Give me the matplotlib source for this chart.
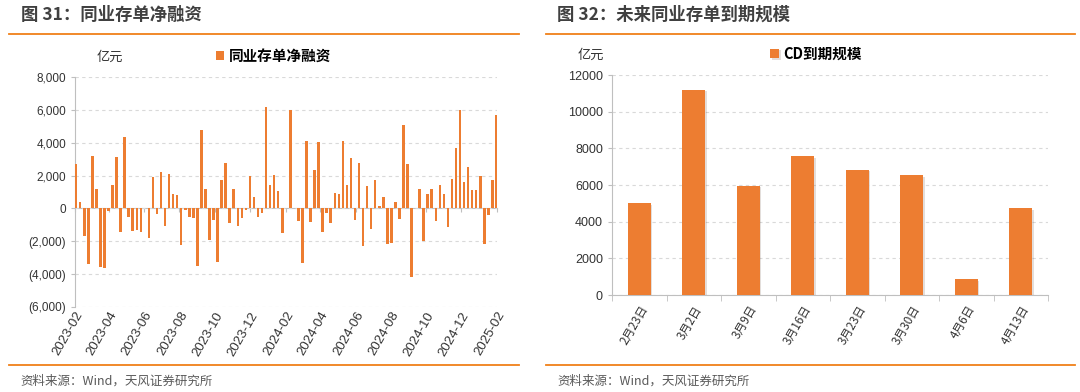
import matplotlib
matplotlib.use('Agg')
import matplotlib.pyplot as plt
import matplotlib.dates as mdates
import matplotlib.patheffects as pe
from matplotlib.ticker import FuncFormatter, FixedLocator
import numpy as np
import pandas as pd

plt.rcParams['font.family'] = ['Liberation Sans', 'Noto Sans CJK SC', 'DejaVu Sans']

# ---- data: 同业存单净融资 (weekly, 亿元) ----
start_week = '2023-02-03'
net_financing = [
    2700, 370, -1700, -3400, 3200, 1200, -3550, -3650, -150, 1400,
    3150, -1450, 4350, -500, -1350, -1300, -1450, 0, -1800, 1900,
    -350, 2200, -1050, 2100, 880, 820, -2250, -100, -550, -600,
    -3500, 4800, 1200, -1900, -700, -3250, 1750, 2750, -900, 1200,
    -1050, -600, -100, 1950, 700, -500, -300, 6200, 1400, 2050,
    1050, -1500, 0, 6000, 0, -750, -3350, 4100, -850, 2350,
    4050, -1450, -300, -900, 950, 850, 4100, 1450, 3050, -700,
    2750, -2300, 1350, -1250, 1750, 150, 700, -2150, -2100, 400,
    -650, 5100, 2700, -4150, 0, 1200, -2000, 900, 1200, -750,
    1450, 880, -1100, 1800, 3650, 6000, 1600, 2500, 1150, 1100,
    2000, -2150, -400, 1750, 5700,
]
left_yticks = [-6000, -4000, -2000, 0, 2000, 4000, 6000, 8000]

# ---- data: 未来同业存单到期规模 (亿元) ----
cd_dates = ['2月23日', '3月2日', '3月9日', '3月16日', '3月23日', '3月30日', '4月6日', '4月13日']
cd_maturity = [5000, 11200, 5970, 7570, 6820, 6520, 850, 4720]
right_yticks = [0, 2000, 4000, 6000, 8000, 10000, 12000]

orange = '#ED7D31'
rule = '#F08019'
axis_gray = '#BFBFBF'
grid_gray = '#D9D9D9'
text_dark = '#404040'
cjk = ['Noto Sans CJK SC', 'DejaVu Sans']

fig = plt.figure(figsize=(10.8, 3.92), dpi=100)

# titles, rules and sources
for x0, x1, tx, title in [(0.008, 0.481, 0.019, '图 31：同业存单净融资'),
                          (0.506, 0.995, 0.516, '图 32：未来同业存单到期规模')]:
    fig.text(tx, 1 - 15 / 392, title, fontsize=12.5, fontweight='bold', color=text_dark,
             family=cjk, va='center', ha='left')
    fig.add_artist(plt.Line2D([x0, x1], [1 - 33.5 / 392] * 2, color=rule, lw=1.3))
    fig.add_artist(plt.Line2D([x0, x1], [1 - 365 / 392] * 2, color=rule, lw=1.3))
    fig.text(tx, 1 - 381 / 392, '资料来源：Wind，天风证券研究所', fontsize=9, color='#595959',
             family=['Liberation Sans Narrow', 'Noto Sans CJK SC', 'DejaVu Sans'],
             va='center', ha='left')

# ---- left chart ----
ax1 = fig.add_axes([75 / 1080, 1 - 307 / 392, (497 - 75) / 1080, (307 - 77) / 392])
weeks = pd.date_range(start_week, periods=len(net_financing), freq='7D')
ax1.bar(weeks, net_financing, width=4.4, color=orange, linewidth=0,
        label='同业存单净融资', zorder=3)
ax1.set_xlim(pd.Timestamp('2023-02-01'), pd.Timestamp('2025-02-01'))
ax1.set_ylim(-6000, 8000)
ax1.set_yticks(left_yticks)
ax1.yaxis.set_major_formatter(FuncFormatter(
    lambda v, p: f'({abs(v):,.0f})' if v < 0 else f'{v:,.0f}'))
ax1.xaxis.set_major_locator(mdates.MonthLocator(bymonth=[2, 4, 6, 8, 10, 12]))
ax1.xaxis.set_major_formatter(mdates.DateFormatter('%Y-%m'))
ax1.grid(axis='y', color=grid_gray, linestyle=(0, (3, 3)), lw=0.8, zorder=0)
for s in ['top', 'right', 'bottom']:
    ax1.spines[s].set_visible(False)
ax1.spines['left'].set_color(axis_gray)
ax1.tick_params(axis='y', length=3, color=axis_gray, labelsize=8.5, labelcolor='#333333')
ax1.tick_params(axis='x', length=0, labelsize=9.5, labelcolor='#333333', pad=2)
plt.setp(ax1.get_xticklabels(), rotation=60, ha='right', rotation_mode='anchor')
# zero axis line with its tick marks
zero_ax = ax1.secondary_xaxis(6000 / 14000)
zero_ax.xaxis.set_major_locator(mdates.MonthLocator(bymonth=[2, 4, 6, 8, 10, 12]))
zero_ax.tick_params(axis='x', length=3, color=axis_gray, labelbottom=False)
zero_ax.spines['bottom'].set_color(axis_gray)
ax1.legend(loc='lower center', bbox_to_anchor=(0.47, 1.0), frameon=False,
           handlelength=0.6, handleheight=0.6, handletextpad=0.3,
           prop={'family': cjk, 'size': 10.5, 'weight': 'bold'})
fig.text(97 / 1080, 1 - 57 / 392, '亿元', fontsize=9.5, color='#333333', family=cjk,
         va='center', ha='left')

# ---- right chart ----
ax2 = fig.add_axes([612 / 1080, 1 - 295 / 392, (1048 - 612) / 1080, (295 - 75) / 392])
pos = np.arange(len(cd_dates))
ax2.bar(pos, cd_maturity, width=0.42, color=orange, label='CD到期规模', zorder=3,
        path_effects=[pe.SimplePatchShadow(offset=(1.2, -1), alpha=0.15), pe.Normal()])
ax2.set_xlim(-0.5, len(cd_dates) - 0.5)
ax2.set_ylim(0, 12000)
ax2.set_yticks(right_yticks)
ax2.set_xticks(pos)
ax2.set_xticklabels(cd_dates, family=cjk)
ax2.xaxis.set_minor_locator(FixedLocator(np.arange(len(cd_dates) + 1) - 0.5))
ax2.grid(axis='y', color=grid_gray, linestyle=(0, (3, 3)), lw=0.8, zorder=0)
for s in ['top', 'right']:
    ax2.spines[s].set_visible(False)
ax2.spines['left'].set_color(axis_gray)
ax2.spines['bottom'].set_color(axis_gray)
ax2.tick_params(axis='y', length=3, color=axis_gray, labelsize=9, labelcolor='#333333')
ax2.tick_params(axis='x', which='major', length=0, labelsize=8.5, labelcolor='#333333', pad=6)
ax2.tick_params(axis='x', which='minor', length=4, color=axis_gray)
plt.setp(ax2.get_xticklabels(), rotation=60, ha='right', rotation_mode='anchor')
ax2.legend(loc='lower center', bbox_to_anchor=(0.468, 1.0), frameon=False,
           handlelength=0.6, handleheight=0.6, handletextpad=0.3,
           prop={'family': cjk, 'size': 10.5, 'weight': 'bold'})
fig.text(578 / 1080, 1 - 55 / 392, '亿元', fontsize=9.5, color='#333333', family=cjk,
         va='center', ha='left')

fig.savefig('out.png', dpi=100)
